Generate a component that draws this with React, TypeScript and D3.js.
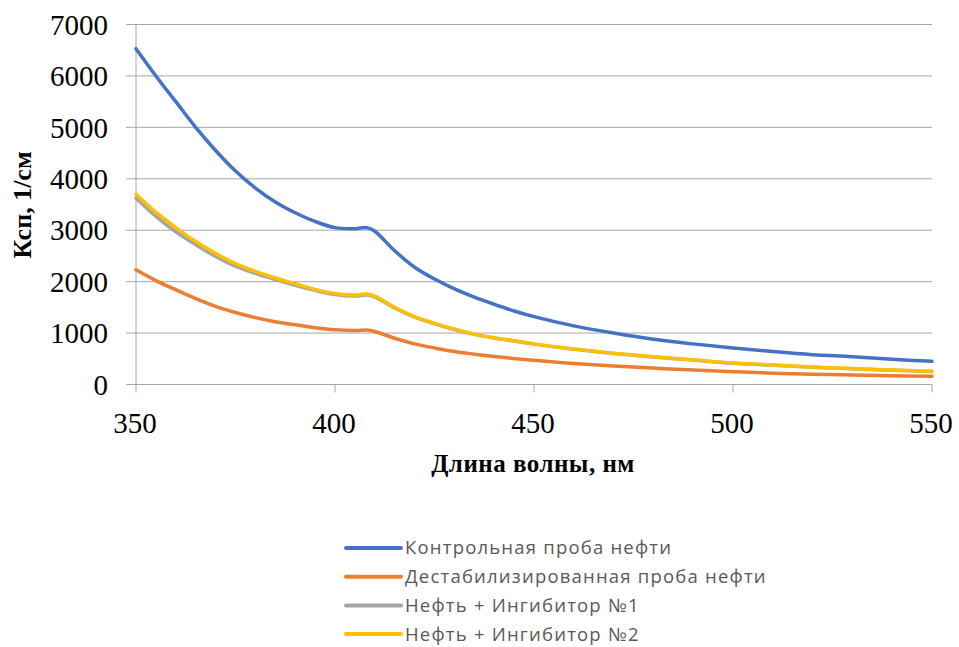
import React from "react";
import * as d3 from "d3";

const wavelengths = [350,355,360,365,370,375,380,385,390,395,400,405,408,410,415,420,425,430,435,440,445,450,460,470,480,490,500,510,520,530,540,550];
const control = [6530,6000,5500,5000,4550,4150,3820,3550,3340,3170,3050,3030,3050,2980,2600,2280,2050,1860,1700,1560,1430,1320,1140,1000,880,790,710,640,580,540,490,450];
const destab = [2230,2020,1840,1670,1520,1400,1300,1220,1160,1105,1065,1050,1060,1030,900,790,710,640,590,545,505,470,410,360,320,280,250,220,200,185,170,160];
const inhib1 = [3620,3270,2970,2720,2490,2300,2160,2040,1930,1830,1750,1720,1740,1700,1490,1310,1180,1070,975,905,845,785,685,605,535,475,415,375,335,305,275,255];
const inhib2 = [3700,3350,3050,2780,2550,2350,2200,2070,1960,1850,1770,1740,1760,1720,1500,1320,1190,1080,980,910,850,790,690,610,540,480,420,380,340,310,280,260];

const seriesNames = ["Контрольная проба нефти","Дестабилизированная проба нефти","Нефть + Ингибитор №1","Нефть + Ингибитор №2"];
const seriesColors = ["#4472C4","#ED7D31","#A5A5A5","#FFC000"];
const seriesValues = [control, destab, inhib1, inhib2];
const xTicks = [350,400,450,500,550];
const yTicks = [0,1000,2000,3000,4000,5000,6000,7000];

export default function App() {
  const x = d3.scaleLinear().domain([350,550]).range([136,932]);
  const y = d3.scaleLinear().domain([0,7000]).range([384.5,24.5]);
  const line = d3.line<number>().x((_, i) => x(wavelengths[i])).y(d => y(d)).curve(d3.curveCatmullRom.alpha(0.5));
  const drawOrder = [0,1,2,3];
  return (
    <svg width={959} height={647} style={{position:"absolute",left:0,top:0,background:"#fff"}}>
      <rect width={959} height={647} fill="#fff" />
      {yTicks.map(t => (
        <g key={t}>
          <line x1={126} x2={932} y1={y(t)} y2={y(t)} stroke="#a6a6a6" strokeWidth={1} />
          <text x={108} y={y(t)} dy="0.35em" textAnchor="end" fontFamily="Liberation Serif" fontSize={29} fill="#000">{t}</text>
        </g>
      ))}
      <line x1={x(350)} x2={x(350)} y1={y(7000)} y2={y(0)} stroke="#a6a6a6" strokeWidth={1} />
      {xTicks.map(t => (
        <g key={t}>
          <line x1={x(t)} x2={x(t)} y1={y(0)} y2={y(0)+8} stroke="#a6a6a6" strokeWidth={1} />
          <text x={x(t) - 1} y={433} textAnchor="middle" fontFamily="Liberation Serif" fontSize={29} fill="#000">{t}</text>
        </g>
      ))}
      {drawOrder.map(i => (
        <path key={i} d={line(seriesValues[i]) || ""} fill="none" stroke={seriesColors[i]} strokeWidth={3.5} strokeLinejoin="round" strokeLinecap="round" />
      ))}
      <text transform="translate(31,205) rotate(-90)" textAnchor="middle" fontFamily="Liberation Serif" fontWeight="bold" fontSize={26} fill="#000">Ксп, 1/см</text>
      <text x={533} y={472} textAnchor="middle" fontFamily="Liberation Serif" fontWeight="bold" fontSize={25} letterSpacing={0.5} fill="#000">Длина волны, нм</text>
      {seriesNames.map((n, i) => (
        <g key={n}>
          <line x1={346} x2={401} y1={548 + i*28.7} y2={548 + i*28.7} stroke={seriesColors[i]} strokeWidth={4} strokeLinecap="round" />
          <text x={405} y={548 + i*28.7} dy="0.35em" fontFamily="Open Sans" fontSize={18.5} letterSpacing={1.2} fill="#595959">{n}</text>
        </g>
      ))}
    </svg>
  );
}
